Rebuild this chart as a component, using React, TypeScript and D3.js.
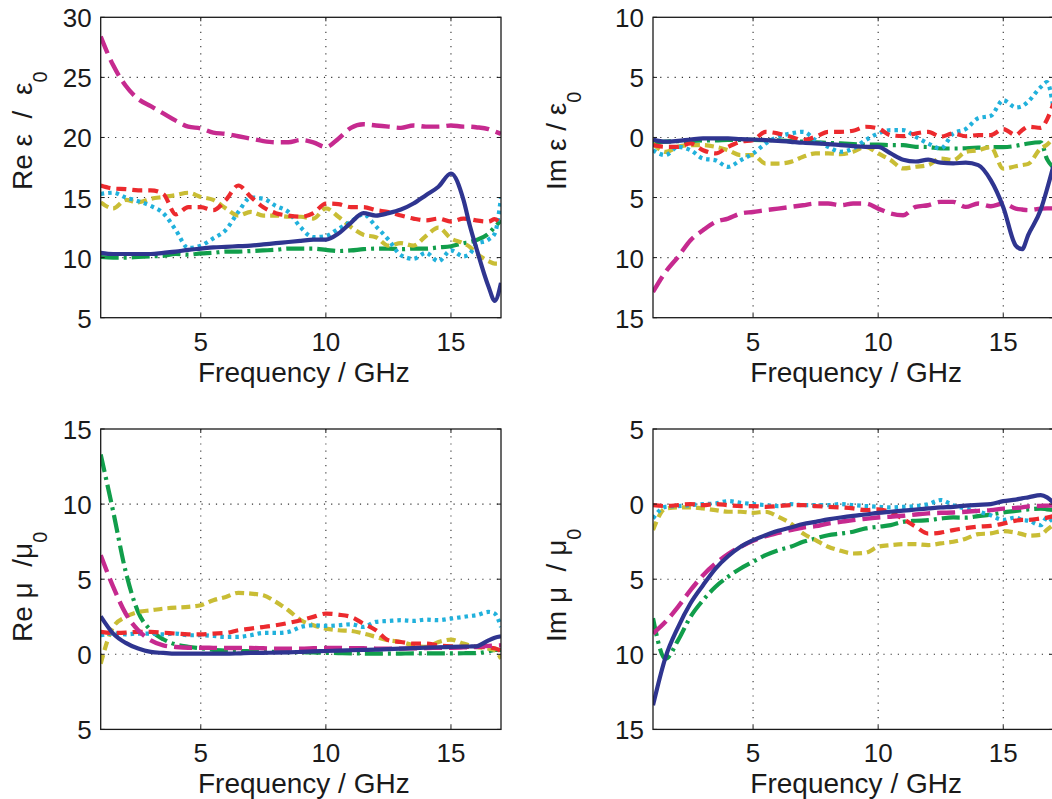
import React from 'react';
import * as d3 from 'd3';

// frequency grid (GHz) shared by every series
const FREQ = [1, 1.5, 2, 2.5, 3, 3.5, 4, 4.5, 5, 5.5, 6, 6.5, 7, 7.5, 8, 8.5, 9, 9.5, 10, 10.5,
  11, 11.5, 12, 12.5, 13, 13.5, 14, 14.5, 15, 15.5, 15.75, 16, 16.5, 16.75, 17];
const X_TICKS = [5, 10, 15];

// Re eps / eps0
const reEpsBlue = [10.4, 10.3, 10.3, 10.3, 10.3, 10.4, 10.5, 10.65, 10.75, 10.85,
  10.9, 10.95, 11.0, 11.1, 11.2, 11.3, 11.4, 11.5, 11.5, 12.0,
  12.9, 13.7, 13.5, 13.7, 14.0, 14.5, 15.2, 15.9, 17.0, 14.8,
  12.7, 10.9, 7.6, 6.4, 7.9];
const reEpsMagenta = [28.4, 26.0, 24.3, 23.2, 22.6, 22.0, 21.4, 20.9, 20.75, 20.4,
  20.3, 20.1, 19.9, 19.7, 19.6, 19.6, 19.8, 19.6, 19.2, 19.9,
  20.8, 21.1, 21.0, 20.9, 20.8, 21.0, 20.9, 20.9, 21.0, 20.9,
  20.9, 20.85, 20.7, 20.5, 20.3];
const reEpsRed = [16.0, 15.75, 15.7, 15.6, 15.6, 15.3, 13.6, 14.2, 14.2, 13.95,
  14.8, 16.0, 15.05, 14.2, 13.7, 13.5, 13.4, 13.7, 14.5, 14.45,
  14.2, 14.2, 13.95, 13.8, 13.5, 13.25, 13.1, 13.25, 13.0, 13.25,
  13.2, 13.1, 13.0, 13.2, 12.7];
const reEpsCyan = [15.3, 15.4, 15.0, 14.7, 14.3, 13.7, 12.3, 10.8, 11.0, 11.6,
  12.3, 13.8, 15.0, 14.9, 14.3, 13.8, 12.5, 11.7, 11.8, 12.4,
  13.0, 13.6, 12.6, 11.5, 10.2, 9.9, 10.4, 9.7, 10.6, 10.1,
  10.3, 11.1, 11.5, 12.0, 15.0];
const reEpsYellow = [14.6, 14.1, 14.8, 14.6, 14.9, 15.05, 15.2, 15.4, 15.05, 14.8,
  14.1, 13.5, 13.8, 13.5, 13.5, 13.4, 13.4, 13.25, 14.1, 13.4,
  12.55, 11.9, 11.7, 11.0, 11.2, 11.0, 11.8, 12.5, 11.6, 11.2,
  10.9, 10.4, 9.7, 9.5, 9.5];
const reEpsGreen = [10.05, 10.0, 10.0, 10.05, 10.1, 10.15, 10.3, 10.25, 10.35, 10.4,
  10.5, 10.5, 10.55, 10.6, 10.65, 10.75, 10.75, 10.75, 10.65, 10.55,
  10.6, 10.7, 10.75, 10.75, 10.7, 10.75, 10.75, 10.85, 10.95, 11.2,
  11.3, 11.45, 12.0, 12.55, 13.1];

// Im eps / eps0
const imEpsBlue = [-0.17, -0.35, -0.28, -0.17, -0.08, -0.08, -0.08, -0.14, -0.17, -0.22,
  -0.28, -0.36, -0.44, -0.5, -0.55, -0.64, -0.72, -0.78, -0.78, -1.33,
  -1.85, -2.0, -1.85, -2.1, -2.15, -2.1, -2.3, -3.55, -5.8, -9.0,
  -9.3, -8.1, -6.0, -4.3, -2.4];
const imEpsMagenta = [-12.86, -11.2, -9.94, -8.55, -7.72, -7.03, -6.75, -6.33, -6.2, -6.05,
  -5.92, -5.78, -5.64, -5.5, -5.5, -5.64, -5.5, -5.5, -5.92, -6.33,
  -6.47, -5.78, -5.64, -5.36, -5.36, -5.78, -5.5, -5.72, -5.5, -5.92,
  -6.0, -6.05, -5.92, -5.9, -5.9];
const imEpsRed = [-0.64, -0.78, -0.78, -0.5, -1.06, -1.33, -0.78, -0.36, -0.22, 0.47,
  0.33, 0.06, -0.22, 0.06, 0.47, 0.47, 0.56, 0.89, 0.75, 0.19,
  0.11, 0.33, 0.47, 0.06, 0.33, 0.1, 0.2, 0.2, 0.7, 0.2,
  0.6, 0.9, 0.8, 1.5, 2.8];
const imEpsCyan = [-1.06, -1.47, -0.78, -1.06, -1.75, -1.9, -2.44, -1.9, -1.33, -0.5,
  0.06, 0.33, 0.47, -0.22, -0.78, -1.19, -0.92, -0.22, 0.33, 0.61,
  0.61, 0.06, -0.5, -0.92, 0.33, 0.7, 1.6, 1.8, 3.1, 2.5,
  2.6, 3.0, 4.2, 4.6, 2.5];
const imEpsYellow = [-0.5, -1.2, -0.78, -0.64, -0.64, -0.78, -1.06, -1.47, -1.47, -2.17,
  -2.17, -2.03, -1.61, -1.33, -1.33, -1.39, -1.19, -0.78, -1.33, -1.89,
  -2.58, -2.44, -2.3, -1.75, -1.89, -1.2, -1.06, -0.8, -2.6, -2.4,
  -2.3, -2.2, -0.9, -0.6, 0.0];
const imEpsGreen = [-0.4, -0.35, -0.3, -0.3, -0.25, -0.25, -0.2, -0.2, -0.2, -0.22,
  -0.25, -0.3, -0.35, -0.4, -0.45, -0.5, -0.55, -0.6, -0.6, -0.64,
  -0.64, -0.78, -0.8, -0.92, -0.92, -0.9, -0.85, -0.8, -0.8, -0.7,
  -0.6, -0.5, -0.4, -1.8, -2.5];

// Re mu / mu0
const reMuBlue = [2.53, 1.38, 0.76, 0.38, 0.16, 0.09, 0.04, 0.04, 0.04, 0.04,
  0.04, 0.06, 0.09, 0.1, 0.11, 0.13, 0.16, 0.19, 0.22, 0.25,
  0.27, 0.29, 0.31, 0.35, 0.38, 0.41, 0.44, 0.47, 0.49, 0.51,
  0.52, 0.53, 0.93, 1.11, 1.2];
const reMuMagenta = [6.6, 4.49, 2.71, 1.6, 0.93, 0.6, 0.49, 0.44, 0.44, 0.43,
  0.42, 0.42, 0.42, 0.4, 0.38, 0.38, 0.38, 0.4, 0.42, 0.42,
  0.4, 0.4, 0.38, 0.38, 0.38, 0.4, 0.42, 0.43, 0.44, 0.46,
  0.47, 0.49, 0.56, 0.58, 0.6];
const reMuRed = [1.49, 1.42, 1.44, 1.49, 1.49, 1.44, 1.38, 1.33, 1.33, 1.38,
  1.42, 1.6, 1.71, 1.82, 1.93, 2.09, 2.27, 2.49, 2.71, 2.64,
  2.49, 2.04, 1.6, 0.93, 0.82, 0.71, 0.71, 0.6, 0.53, 0.49,
  0.49, 0.49, 0.45, 0.4, 0.2];
const reMuCyan = [1.27, 1.38, 1.33, 1.38, 1.38, 1.33, 1.38, 1.27, 1.27, 1.22,
  1.16, 1.16, 1.27, 1.42, 1.42, 1.49, 1.82, 1.93, 1.89, 1.93,
  2.0, 1.82, 2.16, 2.22, 2.27, 2.22, 2.31, 2.27, 2.38, 2.49,
  2.55, 2.6, 2.82, 2.71, 1.82];
const reMuYellow = [-0.62, 1.82, 2.49, 2.82, 2.93, 3.04, 3.11, 3.16, 3.27, 3.6,
  3.82, 4.09, 4.04, 3.93, 3.49, 2.93, 2.27, 1.93, 1.71, 1.6,
  1.56, 1.38, 1.16, 0.93, 0.82, 0.6, 0.49, 0.82, 0.98, 0.71,
  0.6, 0.49, 0.38, 0.27, -0.29];
const reMuGreen = [13.3, 9.5, 5.5, 2.8, 1.6, 1.0, 0.65, 0.5, 0.4, 0.3,
  0.25, 0.22, 0.2, 0.18, 0.16, 0.15, 0.14, 0.12, 0.1, 0.08,
  0.06, 0.05, 0.04, 0.04, 0.05, 0.06, 0.06, 0.06, 0.06, 0.07,
  0.08, 0.08, 0.2, 0.3, 0.3];

// Im mu / mu0
const imMuBlue = [-13.4, -10.2, -8.2, -6.6, -5.4, -4.29, -3.47, -2.84, -2.4, -2.07,
  -1.78, -1.56, -1.33, -1.18, -1.02, -0.89, -0.78, -0.69, -0.58, -0.51,
  -0.44, -0.36, -0.29, -0.22, -0.18, -0.1, -0.05, 0.0, 0.2, 0.3,
  0.38, 0.45, 0.6, 0.45, 0.1];
const imMuMagenta = [-8.62, -7.84, -6.84, -5.73, -4.73, -3.96, -3.33, -2.84, -2.44, -2.13,
  -1.91, -1.73, -1.56, -1.47, -1.29, -1.18, -1.07, -0.98, -0.89, -0.84,
  -0.78, -0.69, -0.62, -0.58, -0.56, -0.51, -0.45, -0.4, -0.3, -0.25,
  -0.22, -0.15, -0.12, -0.1, -0.1];
const imMuRed = [-0.07, -0.13, -0.07, 0.0, -0.07, 0.0, -0.07, -0.13, -0.13, -0.18,
  -0.13, -0.07, -0.07, -0.13, -0.18, -0.22, -0.29, -0.4, -0.35, -0.55,
  -1.0, -1.5, -1.96, -1.9, -1.73, -1.6, -1.5, -1.45, -1.3, -1.1,
  -1.05, -1.05, -0.95, -0.9, -0.8];
const imMuCyan = [-0.96, -0.18, -0.13, -0.07, 0.0, 0.04, 0.2, 0.09, 0.0, -0.07,
  -0.13, 0.0, -0.07, -0.07, -0.07, 0.0, -0.07, -0.13, -0.18, -0.22,
  -0.18, -0.13, 0.0, 0.27, -0.07, -0.3, -0.5, -0.75, -1.05, -0.9,
  -1.05, -1.1, -1.4, -0.9, -1.2];
const imMuYellow = [-1.73, -0.29, -0.22, -0.22, -0.29, -0.4, -0.51, -0.51, -0.58, -0.51,
  -0.84, -1.29, -1.96, -2.4, -2.84, -3.11, -3.29, -3.24, -2.84, -2.73,
  -2.67, -2.67, -2.73, -2.62, -2.51, -2.3, -2.0, -1.95, -1.8, -1.9,
  -2.0, -2.1, -2.05, -1.7, -1.4];
const imMuGreen = [-7.6, -10.3, -9.07, -7.5, -6.4, -5.5, -4.84, -4.29, -3.84, -3.4,
  -3.07, -2.84, -2.51, -2.29, -2.07, -1.96, -1.84, -1.62, -1.51, -1.4,
  -1.18, -1.11, -1.07, -0.96, -0.89, -0.9, -0.8, -0.7, -0.55, -0.45,
  -0.4, -0.35, -0.3, -0.35, -0.4];

const PANELS = [
  { label: 'Re ε  /  ε', yDomain: [5, 30], yTicks: [5, 10, 15, 20, 25, 30],
    series: { green: reEpsGreen, yellow: reEpsYellow, cyan: reEpsCyan, red: reEpsRed, magenta: reEpsMagenta, blue: reEpsBlue } },
  { label: 'Im ε / ε', yDomain: [-15, 10], yTicks: [-15, -10, -5, 0, 5, 10],
    series: { green: imEpsGreen, yellow: imEpsYellow, cyan: imEpsCyan, red: imEpsRed, magenta: imEpsMagenta, blue: imEpsBlue } },
  { label: 'Re μ  /μ', yDomain: [-5, 15], yTicks: [-5, 0, 5, 10, 15],
    series: { green: reMuGreen, yellow: reMuYellow, cyan: reMuCyan, red: reMuRed, magenta: reMuMagenta, blue: reMuBlue } },
  { label: 'Im μ  / μ', yDomain: [-15, 5], yTicks: [-15, -10, -5, 0, 5],
    series: { green: imMuGreen, yellow: imMuYellow, cyan: imMuCyan, red: imMuRed, magenta: imMuMagenta, blue: imMuBlue } },
];

// layout
const FONT = '"Liberation Sans", Arial, Helvetica, sans-serif';
const LEFT = [100.7, 653];
const TOP = [17.3, 429];
const W = 400.3;
const H = 300.4;
const LABEL_X = [32, 566];
const LABEL_Y = [190, 642];

const STYLE = {
  green: { color: '#119e4b', dash: '18,5,3,5', width: 4.2 },
  yellow: { color: '#c9bd35', dash: '9,5', width: 4.2 },
  cyan: { color: '#21b1dc', dash: '3.5,4', width: 4.2 },
  red: { color: '#ec2a2e', dash: '10,6', width: 4.2 },
  magenta: { color: '#c62a8f', dash: '18,7', width: 4.4 },
  blue: { color: '#2f3590', dash: null, width: 4.2 },
};
const ORDER = ['green', 'yellow', 'cyan', 'red', 'magenta', 'blue'];

function Panel({ p, idx }: { p: any; idx: number }) {
  const col = idx % 2;
  const row = Math.floor(idx / 2);
  const x0 = LEFT[col];
  const y0 = TOP[row];
  const x = d3.scaleLinear().domain([1, 17]).range([x0, x0 + W]);
  const y = d3.scaleLinear().domain(p.yDomain).range([y0 + H, y0]);
  const line = d3.line<number>()
    .x((_, i) => x(FREQ[i]))
    .y(d => y(d))
    .curve(d3.curveMonotoneX);
  const clipId = `clip-${idx}`;
  const inner = p.yTicks.filter((t: number) => t !== p.yDomain[0] && t !== p.yDomain[1]);

  return (
    <g>
      <defs>
        <clipPath id={clipId}>
          <rect x={x0} y={y0} width={W} height={H} />
        </clipPath>
      </defs>
      {/* dotted grid */}
      <g stroke="#333" strokeWidth={1.1} strokeDasharray="1.2,6">
        {X_TICKS.map(t => (
          <line key={'gx' + t} x1={x(t)} x2={x(t)} y1={y0} y2={y0 + H} />
        ))}
        {inner.map((t: number) => (
          <line key={'gy' + t} x1={x0} x2={x0 + W} y1={y(t)} y2={y(t)} />
        ))}
      </g>
      <g clipPath={`url(#${clipId})`} fill="none">
        {ORDER.map(k => {
          const s = (STYLE as any)[k];
          return (
            <path key={k} d={line(p.series[k]) || ''} stroke={s.color} strokeWidth={s.width}
              strokeDasharray={s.dash || undefined} strokeLinejoin="round" />
          );
        })}
      </g>
      <rect x={x0} y={y0} width={W} height={H} fill="none" stroke="#1a1a1a" strokeWidth={1.3} />
      {/* inward ticks */}
      <g stroke="#1a1a1a" strokeWidth={1}>
        {X_TICKS.map(t => (
          <g key={'tx' + t}>
            <line x1={x(t)} x2={x(t)} y1={y0 + H} y2={y0 + H - 4} />
            <line x1={x(t)} x2={x(t)} y1={y0} y2={y0 + 4} />
          </g>
        ))}
        {p.yTicks.map((t: number) => (
          <g key={'ty' + t}>
            <line x1={x0} x2={x0 + 4} y1={y(t)} y2={y(t)} />
            <line x1={x0 + W} x2={x0 + W - 4} y1={y(t)} y2={y(t)} />
          </g>
        ))}
      </g>
      <g fontFamily={FONT} fontSize={26} fill="#1a1a1a">
        {X_TICKS.map(t => (
          <text key={'lx' + t} x={x(t)} y={y0 + H + 33} textAnchor="middle">{t}</text>
        ))}
        {p.yTicks.map((t: number) => (
          <text key={'ly' + t} x={x0 - 9} y={y(t) + 10} textAnchor="end">{Math.abs(t)}</text>
        ))}
      </g>
      <text x={(x0 + x0 + W) / 2 + 3} y={y0 + H + 64} textAnchor="middle"
        fontFamily={FONT} fontSize={28} fill="#1a1a1a">Frequency / GHz</text>
      <text transform={`translate(${LABEL_X[col]},${LABEL_Y[row]}) rotate(-90)`}
        fontFamily={FONT} fontSize={28} fill="#1a1a1a" style={{ whiteSpace: 'pre' }}>
        {p.label}<tspan fontSize={20} dy={15}>0</tspan>
      </text>
    </g>
  );
}

export default function App() {
  return (
    <svg width={1052} height={799} viewBox="0 0 1052 799"
      style={{ position: 'absolute', left: 0, top: 0, background: '#fff' }}>
      {PANELS.map((p, i) => <Panel key={i} p={p} idx={i} />)}
    </svg>
  );
}
